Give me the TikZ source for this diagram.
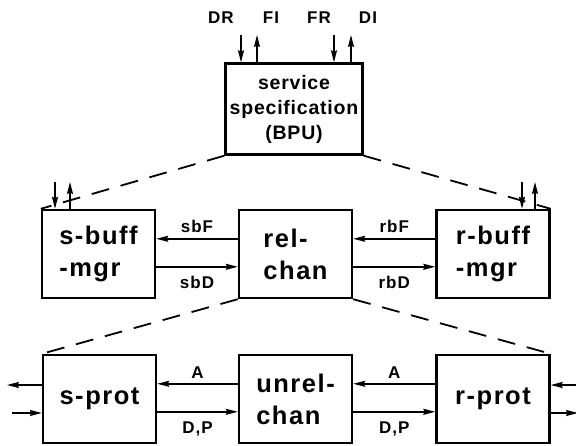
\documentclass[tikz,border=0pt]{standalone}
\usepackage{fontspec}
\newfontfamily\plotfont[LetterSpace=6,UprightFont={* Bold}]{Liberation Sans}
\newfontfamily\plotfonttop[LetterSpace=4,UprightFont={* Bold}]{Liberation Sans}
\newfontfamily\plotfontlbl[LetterSpace=6,UprightFont={* Bold}]{Liberation Sans}
\usetikzlibrary{arrows.meta}
\tikzset{
  box/.style={draw, line width=2.4pt, minimum width=113pt, minimum height=88pt, inner sep=0pt,
    align=left, font=\plotfont\fontsize{25.5}{32}\selectfont},
  topbox/.style={draw, line width=2.4pt, minimum width=137pt, minimum height=91pt, inner sep=0pt,
    align=center, font=\plotfonttop\fontsize{19.5}{25}\selectfont},
  flow/.style={-{Stealth[length=12pt,width=6pt,inset=1.5pt]}, line width=1.5pt},
  lbl/.style={font=\plotfontlbl\fontsize{17}{18}\selectfont, inner sep=0pt},
  dline/.style={line width=1.8pt, dash pattern=on 18pt off 12pt},
}
\begin{document}
\begin{tikzpicture}[x=1pt,y=-1pt]
\useasboundingbox (0,0) rectangle (576,446);
% boxes
\node[topbox] (top) at (294,109) {service\\specification\\(BPU)};
\node[box] (sb) at (98.5,254) {s-buff\\-mgr};
\node[box] (rc) at (295.5,254) {rel-\\chan};
\node[box] (rb) at (493,254) {r-buff\\-mgr};
\node[box] (sp) at (99.5,399) {s-prot};
\node[box] (uc) at (295.5,399) {unrel-\\chan};
\node[box] (rp) at (493,399) {r-prot};
% dashed decomposition lines
\draw[dline] (top.south west) -- (sb.north west);
\draw[dline] (top.south east) -- (rb.north east);
\draw[dline] (rc.south west) -- (sp.north west);
\draw[dline] (rc.south east) -- (rp.north east);
% top external arrows
\coordinate (dr) at (241,35);
\coordinate (fi) at (257,35);
\coordinate (fr) at (334,35);
\coordinate (di) at (351,35);
\draw[flow] (dr) -- (dr |- top.north);
\draw[flow] (fi |- top.north) -- (fi);
\draw[flow] (fr) -- (fr |- top.north);
\draw[flow] (di |- top.north) -- (di);
\node[lbl] (ldr) at (221,18) {DR};
\node[lbl] (lfi) at (271,18) {FI};
\node[lbl] (lfr) at (319,18) {FR};
\node[lbl] (ldi) at (368,18) {DI};
% buffer manager external arrows
\coordinate (sbd) at (55,182);
\coordinate (sbu) at (70,182);
\coordinate (rbd) at (522,182);
\coordinate (rbu) at (535,182);
\draw[flow] (sbd) -- (sbd |- sb.north);
\draw[flow] (sbu |- sb.north) -- (sbu);
\draw[flow] (rbd) -- (rbd |- rb.north);
\draw[flow] (rbu |- rb.north) -- (rbu);
% middle row connectors
\draw[flow] ([yshift=-30pt]rc.north west) -- node[lbl, above=5pt] (lsbf) {sbF} ([yshift=-30pt]sb.north east);
\draw[flow] ([yshift=-58pt]sb.north east) -- node[lbl, below=9pt] (lsbd) {sbD} ([yshift=-58pt]rc.north west);
\draw[flow] ([yshift=-30pt]rb.north west) -- node[lbl, above=5pt] (lrbf) {rbF} ([yshift=-30pt]rc.north east);
\draw[flow] ([yshift=-58pt]rc.north east) -- node[lbl, below=9pt] (lrbd) {rbD} ([yshift=-58pt]rb.north west);
% bottom row connectors
\draw[flow] ([yshift=-30pt]uc.north west) -- node[lbl, above=5pt] (la1) {A} ([yshift=-30pt]sp.north east);
\draw[flow] ([yshift=-58pt]sp.north east) -- node[lbl, below=9pt] (ldp1) {D,P} ([yshift=-58pt]uc.north west);
\draw[flow] ([yshift=-30pt]rp.north west) -- node[lbl, above=5pt] (la2) {A} ([yshift=-30pt]uc.north east);
\draw[flow] ([yshift=-58pt]uc.north east) -- node[lbl, below=9pt] (ldp2) {D,P} ([yshift=-58pt]rp.north west);
% protocol external arrows
\coordinate (spo) at (7,385);
\coordinate (spi) at (12,413);
\coordinate (rpi) at (576,385);
\coordinate (rpo) at (578,413);
\draw[flow] (spo -| sp.west) -- (spo);
\draw[flow] (spi) -- (spi -| sp.west);
\draw[flow] (rpi) -- (rpi -| rp.east);
\draw[flow] (rpo -| rp.east) -- (rpo);
\end{tikzpicture}
\end{document}
